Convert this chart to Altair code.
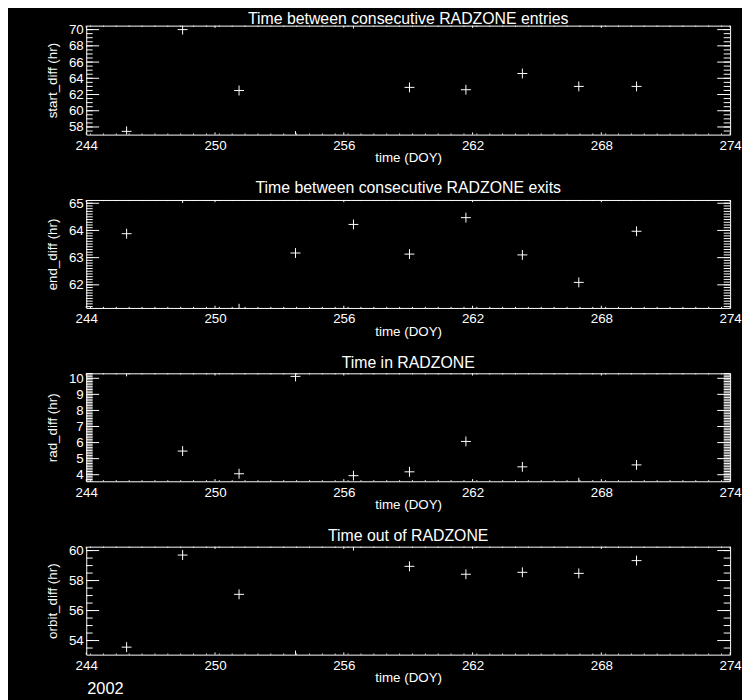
import altair as alt
import pandas as pd
import numpy as np

# ---- data ----
doy = [245.88, 248.49, 251.12, 253.75, 256.45, 259.06, 261.69, 264.32, 266.95, 269.64]
start_diff = [57.46, 70.0, 62.49, 56.88, 70.75, 62.88, 62.59, 64.59, 63.0, 63.0]
end_diff = [63.88, 65.19, 61.12, 63.17, 64.22, 63.13, 64.47, 63.1, 62.09, 63.97]
rad_diff = [10.43, 5.47, 4.06, 10.12, 3.94, 4.18, 6.07, 4.49, 3.50, 4.61]
orbit_diff = [53.56, 59.7, 57.08, 53.0, 60.33, 58.95, 58.42, 58.55, 58.48, 59.33]

titles = [
    "Time between consecutive RADZONE entries",
    "Time between consecutive RADZONE exits",
    "Time in RADZONE",
    "Time out of RADZONE",
]
y_titles = ["start_diff (hr)", "end_diff (hr)", "rad_diff (hr)", "orbit_diff (hr)"]
y_domains = [[57.06, 70.49], [61.15, 65.12], [3.59, 10.31], [53.06, 60.26]]
y_major = [
    [58, 60, 62, 64, 66, 68, 70],
    [62, 63, 64, 65],
    [4, 5, 6, 7, 8, 9, 10],
    [54, 56, 58, 60],
]
y_minor_step = [0.5, 0.1, 0.1, 0.5]
x_domain = [244, 274]
x_major = [244, 250, 256, 262, 268, 274]
x_minor_step = 0.6
x_title = "time (DOY)"
year_label = ["2002"]

series = [start_diff, end_diff, rad_diff, orbit_diff]

# ---- styling ----
FONT = "Liberation Sans"
W = 650
HEIGHTS = [110, 109, 109, 109]
TITLE_OFFSETS = [-17.5, -13, -13, -13]
YT_MAJ, YT_MIN = 13, 6.5
XT_MAJ, XT_MIN = 2.2, 1.1
PLUS = "M-1,0L1,0M0,-1L0,1"


def minor_ticks(lo, hi, step):
    start = np.ceil(lo / step - 1e-9) * step
    vals = np.arange(start, hi + 1e-9, step)
    return [round(float(v), 4) for v in vals]


def panel(i):
    H = HEIGHTS[i]
    ydom = y_domains[i]
    xs = alt.Scale(domain=x_domain, nice=False, zero=False)
    ys = alt.Scale(domain=ydom, nice=False, zero=False)
    xax = alt.Axis(values=x_major, title=x_title, format="d", labelPadding=4, titlePadding=-1,
                   labelFlush=False, labelOverlap=False)
    yax = alt.Axis(values=y_major[i], title=y_titles[i], format="d", labelPadding=3, titlePadding=9,
                   labelFlush=False, labelOverlap=False)

    def X(f):
        return alt.X(f, type="quantitative", scale=xs, axis=xax)

    def Y(f):
        return alt.Y(f, type="quantitative", scale=ys, axis=yax)

    pts = pd.DataFrame({"doy": doy, "val": series[i]})
    ymaj = pd.DataFrame({"v": y_major[i]})
    ymin = pd.DataFrame({"v": minor_ticks(ydom[0], ydom[1], y_minor_step[i])})
    xmaj = pd.DataFrame({"v": x_major})
    xmin = pd.DataFrame({"v": minor_ticks(x_domain[0], x_domain[1], x_minor_step)})

    rule = dict(color="white", strokeWidth=1)
    layers = [
        alt.Chart(pts).mark_point(shape=PLUS, size=100, filled=False, color="white",
                                  strokeWidth=1, opacity=1, clip=True).encode(x=X("doy"), y=Y("val")),
        alt.Chart(ymaj).mark_rule(**rule).encode(y=Y("v"), x=alt.value(0), x2=alt.value(YT_MAJ)),
        alt.Chart(ymin).mark_rule(**rule).encode(y=Y("v"), x=alt.value(0), x2=alt.value(YT_MIN)),
        alt.Chart(ymaj).mark_rule(**rule).encode(y=Y("v"), x=alt.value(W - YT_MAJ), x2=alt.value(W)),
        alt.Chart(ymin).mark_rule(**rule).encode(y=Y("v"), x=alt.value(W - YT_MIN), x2=alt.value(W)),
        alt.Chart(xmaj).mark_rule(**rule).encode(x=X("v"), y=alt.value(H - XT_MAJ), y2=alt.value(H)),
        alt.Chart(xmin).mark_rule(**rule).encode(x=X("v"), y=alt.value(H - XT_MIN), y2=alt.value(H)),
        alt.Chart(xmaj).mark_rule(**rule).encode(x=X("v"), y=alt.value(0), y2=alt.value(XT_MAJ)),
        alt.Chart(xmin).mark_rule(**rule).encode(x=X("v"), y=alt.value(0), y2=alt.value(XT_MIN)),
    ]
    if i == 3:
        yr = pd.DataFrame({"year": year_label})
        layers.append(
            alt.Chart(yr).mark_text(color="white", font=FONT, fontSize=16.5, align="left",
                                    baseline="middle").encode(
                text="year:N", x=alt.value(1), y=alt.value(H + 35))
        )
    return alt.layer(*layers).properties(
        width=W, height=H,
        title=alt.TitleParams(text=titles[i], offset=TITLE_OFFSETS[i], baseline="alphabetic",
                              font=FONT, fontSize=16, fontWeight="normal", color="white"),
    )


chart = alt.vconcat(*[panel(i) for i in range(4)], spacing=66, bounds="flush").properties(
    padding={"left": 37, "top": -0.5, "right": 0, "bottom": 0}
).configure(background="black").configure_view(stroke="white", strokeWidth=1).configure_axis(
    grid=False, domain=False, ticks=False,
    labelColor="white", titleColor="white",
    labelFont=FONT, titleFont=FONT, labelFontSize=13.5, titleFontSize=13.5,
    titleFontWeight="normal",
)

chart.save("out.html", embed_options={"renderer": "svg", "actions": False})
